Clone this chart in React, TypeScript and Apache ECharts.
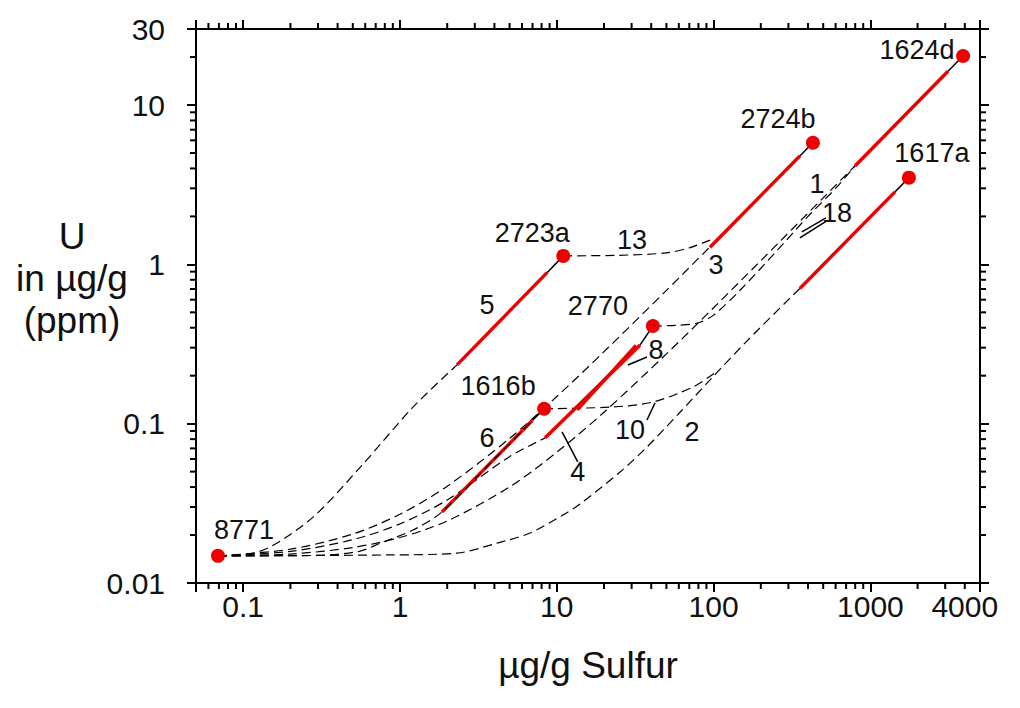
import React, { useEffect, useRef } from 'react';
import * as echarts from 'echarts';

const X_MIN = 0.05;
const X_MAX = 5000;
const Y_MIN = 0.01;
const Y_MAX = 30;

const xMinorTicks = [0.06, 0.07, 0.08, 0.09, 0.2, 0.3, 0.4, 0.5, 0.6, 0.7, 0.8, 0.9, 2, 3, 4, 5, 6, 7, 8, 9, 20, 30, 40, 50, 60, 70, 80, 90, 200, 300, 400, 500, 600, 700, 800, 900, 2000, 3000, 4000];
const yMinorTicks = [0.02, 0.03, 0.04, 0.05, 0.06, 0.07, 0.08, 0.09, 0.2, 0.3, 0.4, 0.5, 0.6, 0.7, 0.8, 0.9, 2, 3, 4, 5, 6, 7, 8, 9, 20];
const xExtraLabels = [4000];

// Reference materials: [sulfur µg/g, uranium µg/g, name]
const materials: [number, number, string][] = [
  [0.069, 0.0148, '8771'],
  [11, 1.13, '2723a'],
  [430, 5.8, '2724b'],
  [3900, 20.3, '1624d'],
  [1760, 3.5, '1617a'],
  [41, 0.41, '2770'],
  [8.3, 0.124, '1616b'],
];

// dashed blend curves
const curve5 = [[0.069, 0.0148], [0.1, 0.015], [0.148, 0.0168], [0.28, 0.026], [0.56, 0.0535], [1.21, 0.127], [2.31, 0.234]];
const curve6 = [[0.069, 0.0148], [0.3, 0.0149], [0.55, 0.0158], [0.75, 0.0178], [1.21, 0.0215], [1.85, 0.0279], [4, 0.06], [8.3, 0.124]];
const curve3 = [[0.069, 0.0148], [0.2, 0.0163], [0.5, 0.0203], [1, 0.027], [2, 0.0405], [5, 0.0808], [10, 0.148], [20, 0.283], [50, 0.686], [95, 1.29]];
const curve1 = [[0.069, 0.0148], [0.2, 0.0152], [0.5, 0.0167], [1, 0.0193], [2, 0.0245], [5, 0.0401], [10, 0.0662], [20, 0.118], [50, 0.274], [100, 0.534], [200, 1.054], [500, 2.615], [800, 4.16]];
const curve2 = [[0.069, 0.0148], [0.83, 0.015], [2.31, 0.0154], [4.16, 0.0178], [6.75, 0.0206], [10.95, 0.0267], [14.06, 0.0313], [25.3, 0.0497], [37.6, 0.0714], [61.1, 0.118], [99.1, 0.197], [163, 0.33], [355, 0.706]];
const curve4 = [[0.069, 0.0148], [0.2, 0.0158], [0.5, 0.0187], [1, 0.0235], [2, 0.0332], [5, 0.0621], [8.4, 0.0813]];
const curve13 = [[11, 1.13], [25, 1.14], [50, 1.18], [70, 1.27], [95, 1.42]];
const curve18 = [[41, 0.41], [60, 0.415], [80, 0.43], [100, 0.48], [150, 0.7], [250, 1.2], [400, 2.0], [600, 3.0], [800, 4.16]];
const curve10 = [[8.3, 0.124], [22.8, 0.1273], [41.1, 0.1368], [73.9, 0.17], [105, 0.213]];

// red dilution segments
const red5 = [[2.31, 0.234], [8.7, 0.89]];
const red6 = [[1.85, 0.0279], [7.0, 0.105]];
const red4 = [[8.4, 0.0813], [34, 0.312]];
const red8 = [[13.5, 0.122], [32, 0.31]];
const redB = [[94.8, 1.28], [356, 4.8]];
const redD = [[800, 4.16], [3126, 16.3]];
const redE = [[355, 0.706], [1435, 2.85]];

// solid black links from red segment ends to the dots
const links = [
  [[8.7, 0.89], [11, 1.13]],
  [[7.0, 0.105], [8.3, 0.124]],
  [[34, 0.312], [41, 0.41]],
  [[356, 4.8], [430, 5.8]],
  [[3126, 16.3], [3900, 20.3]],
  [[1435, 2.85], [1760, 3.5]],
];

// leader lines
const leaders = [
  [[10.8, 0.0887], [13.6, 0.0575]],
  [[37.6, 0.1055], [42.3, 0.135]],
  [[28.4, 0.2336], [37.6, 0.2621]],
  [[521, 1.956], [366, 1.598]],
  [[530, 1.88], [355, 1.465]],
];

// curve numbers: [S, U, text]
const curveLabels: [number, number, string][] = [
  [3.59, 0.556, '5'],
  [30.2, 1.42, '13'],
  [103.5, 0.991, '3'],
  [456, 3.2, '1'],
  [612, 2.1, '18'],
  [42.9, 0.29, '8'],
  [3.59, 0.0813, '6'],
  [29.3, 0.0912, '10'],
  [72.8, 0.0887, '2'],
  [13.6, 0.0497, '4'],
];

const FONT = '"Liberation Sans", Arial, sans-serif';

const labelOffsets: Record<string, [number, number]> = {
  '8771': [26, -26],
  '2723a': [-31, -23],
  '2724b': [-35, -24],
  '1624d': [-46, -6],
  '1617a': [23, -25],
  '2770': [-55, -20],
  '1616b': [-46, -23],
};

function fmt(v: number): string {
  return String(Number(Number(v).toPrecision(6)));
}

export default function App() {
  const ref = useRef<HTMLDivElement>(null);
  useEffect(() => {
    if (!ref.current) return;
    const chart = echarts.init(ref.current, null, { renderer: 'svg' });
    const dashed = (data: number[][], z = 3) => ({
      type: 'line', data, showSymbol: false, symbol: 'none', smooth: 0.3, silent: true, z,
      lineStyle: { color: '#000', width: 1.2, type: [9, 5] },
    });
    const red = (data: number[][]) => ({
      type: 'line', data, showSymbol: false, symbol: 'none', silent: true, z: 4,
      lineStyle: { color: '#ee0000', width: 3.4 },
    });
    const solid = (data: number[][]) => ({
      type: 'line', data, showSymbol: false, symbol: 'none', silent: true, z: 5,
      lineStyle: { color: '#000', width: 1.5 },
    });
    const axisCommon = {
      type: 'log', logBase: 10,
      axisLine: { show: true, lineStyle: { color: '#000', width: 2 } },
      axisTick: { show: true, inside: false, length: 9, lineStyle: { color: '#000', width: 2 } },
      splitLine: { show: false },
      minorTick: { show: false },
    };
    const option: any = {
      animation: false,
      backgroundColor: '#ffffff',
      grid: { left: 196, right: 40, top: 29, bottom: 125, containLabel: false },
      xAxis: [
        {
          ...axisCommon, min: X_MIN, max: X_MAX, position: 'bottom',
          axisLabel: {
            margin: 8, fontSize: 30, color: '#111', fontFamily: FONT,
            formatter: (v: number) => { const s = fmt(v); return s === '0.05' || s === '5000' ? '' : s; },
          },
          name: 'µg/g Sulfur', nameLocation: 'middle', nameGap: 64,
          nameTextStyle: { fontSize: 37, color: '#111', fontFamily: FONT },
        },
        { ...axisCommon, min: X_MIN, max: X_MAX, position: 'top', axisLabel: { show: false } },
      ],
      yAxis: [
        {
          ...axisCommon, min: Y_MIN, max: Y_MAX, position: 'left',
          axisLabel: { margin: 31, fontSize: 30, color: '#111', fontFamily: FONT, formatter: (v: number) => fmt(v) },
        },
        { ...axisCommon, min: Y_MIN, max: Y_MAX, position: 'right', axisLabel: { show: false } },
      ],
      graphic: [
        {
          type: 'text', x: 72, y: 215,
          style: {
            text: 'U\nin µg/g\n(ppm)', fontSize: 37, lineHeight: 42, fill: '#111', fontFamily: FONT,
            align: 'center', verticalAlign: 'top',
          },
        },
      ],
      series: [
        {
          type: 'custom', xAxisIndex: 0, yAxisIndex: 0, clip: false, silent: true, z: 10,
          data: xMinorTicks.map((v) => [v, Y_MIN]),
          renderItem: (_p: any, api: any) => {
            const v = api.value(0);
            const b = api.coord([v, Y_MIN]);
            const t = api.coord([v, Y_MAX]);
            return {
              type: 'group', children: [
                { type: 'line', shape: { x1: b[0], y1: b[1], x2: b[0], y2: b[1] + 6 }, style: { stroke: '#000', lineWidth: 2 } },
                { type: 'line', shape: { x1: t[0], y1: t[1], x2: t[0], y2: t[1] - 6 }, style: { stroke: '#000', lineWidth: 2 } },
              ],
            };
          },
        },
        {
          type: 'custom', xAxisIndex: 0, yAxisIndex: 0, clip: false, silent: true, z: 10,
          data: yMinorTicks.map((v) => [X_MIN, v]),
          renderItem: (_p: any, api: any) => {
            const v = api.value(1);
            const l = api.coord([X_MIN, v]);
            const r = api.coord([X_MAX, v]);
            return {
              type: 'group', children: [
                { type: 'line', shape: { x1: l[0], y1: l[1], x2: l[0] - 6, y2: l[1] }, style: { stroke: '#000', lineWidth: 2 } },
                { type: 'line', shape: { x1: r[0], y1: r[1], x2: r[0] + 6, y2: r[1] }, style: { stroke: '#000', lineWidth: 2 } },
              ],
            };
          },
        },
        {
          type: 'custom', xAxisIndex: 0, yAxisIndex: 0, clip: false, silent: true, z: 10,
          data: xExtraLabels.map((v) => [v, Y_MIN]),
          renderItem: (_p: any, api: any) => {
            const v = api.value(0);
            const b = api.coord([v, Y_MIN]);
            return {
              type: 'text', x: b[0], y: b[1] + 8,
              style: { text: fmt(v), fontSize: 30, fill: '#111', fontFamily: FONT, align: 'center', verticalAlign: 'top' },
            };
          },
        },
        dashed(curve5), dashed(curve6, 6), dashed(curve3), dashed(curve1), dashed(curve2), dashed(curve4),
        dashed(curve13), dashed(curve18), dashed(curve10),
        red(red5), red(red6), red(red4), red(red8), red(redB), red(redD), red(redE),
        ...links.map(solid), ...leaders.map(solid),
        {
          type: 'scatter', symbolSize: 0, silent: true, z: 6,
          itemStyle: { opacity: 1 },
          data: curveLabels.map((d) => ({ value: [d[0], d[1]], name: d[2] })),
          label: { show: true, position: 'inside', formatter: (p: any) => p.name, fontSize: 27, color: '#111', fontFamily: FONT, opacity: 1 },
        },
        {
          type: 'scatter', symbol: 'circle', symbolSize: 14, silent: true, z: 8,
          itemStyle: { color: '#ee0000', opacity: 1 },
          data: materials.map((m) => ({
            value: [m[0], m[1]], name: m[2],
            label: { show: true, position: 'inside', offset: labelOffsets[m[2]], formatter: m[2], fontSize: 27, color: '#111', fontFamily: FONT },
          })),
        },
      ],
    };
    chart.setOption(option);
    return () => chart.dispose();
  }, []);
  return <div ref={ref} style={{ width: 1020, height: 708, position: 'absolute', left: 0, top: 0, background: '#fff' }} />;
}
